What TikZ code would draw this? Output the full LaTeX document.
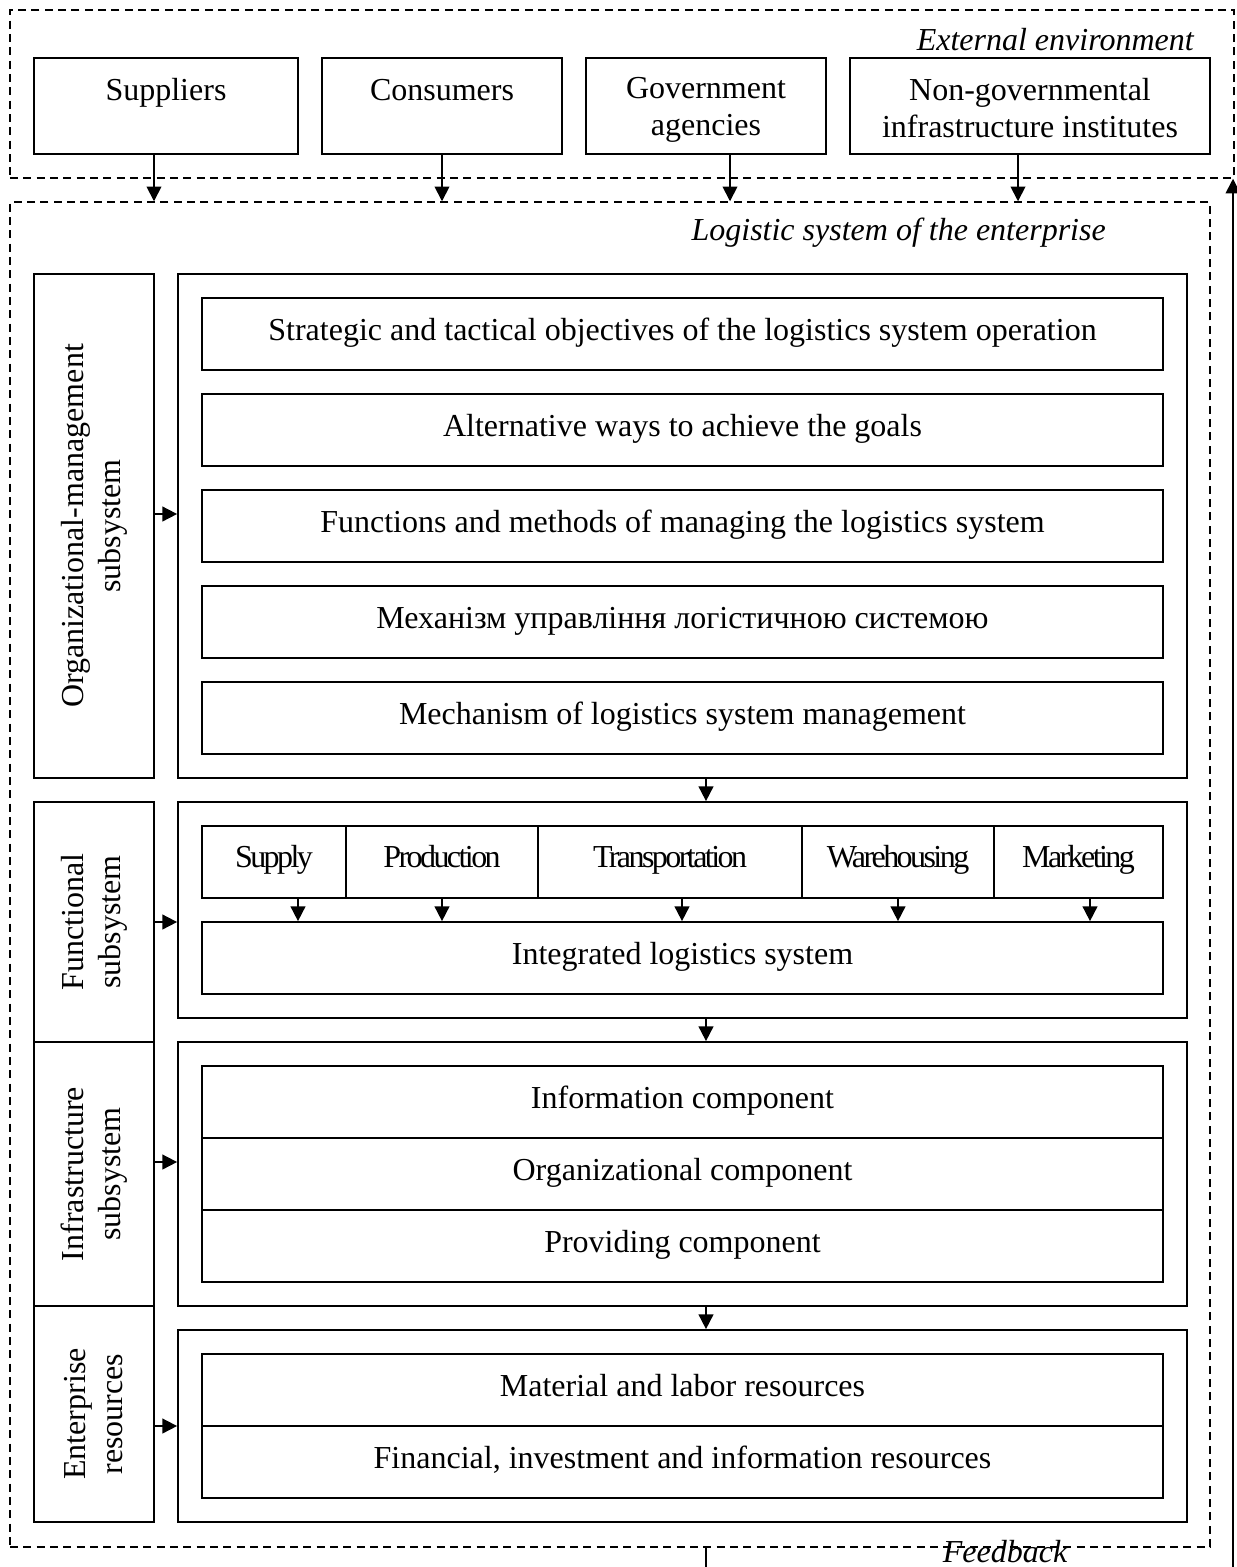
\documentclass[tikz,border=0pt]{standalone}
\usepackage{fontspec}
\setmainfont{Liberation Serif}
\newfontfamily\tightfont[LetterSpace=-8]{Liberation Serif}
\usetikzlibrary{arrows.meta}
\newcommand\twolines[2]{\rule{0pt}{22pt}#1\\#2\rule[-3.25pt]{0pt}{3.25pt}}
\begin{document}
\begin{tikzpicture}[x=0.75pt,y=-0.75pt,
  every node/.style={font=\fontsize{24}{27.75}\selectfont},
  bx/.style 2 args={minimum width=#1*0.75pt, minimum height=#2*0.75pt},
  box/.style={draw, line width=1.3pt, inner sep=0pt, align=center},
  one/.style={text height=17pt, text depth=8pt},
  dbox/.style={draw, line width=1.1pt, dash pattern=on 6pt off 4pt, inner sep=0pt},
  arr/.style={line width=1.3pt, -{Triangle[length=11pt,width=11pt]}},
  lbl/.style={font=\fontsize{24}{27.75}\selectfont\itshape, inner sep=0pt},
  tight/.style={font=\fontsize{24}{27.75}\tightfont, text height=16pt, text depth=8.5pt}]
\useasboundingbox (0,0) rectangle (1237,1567);
% external environment
\node[dbox, bx={1224}{168}] (ext) at (622,94) {};
\node[lbl, anchor=east] (extl) at (1194,40) {External environment};
\node[box, bx={264}{96}] (sup) at (166,106) {\twolines{Suppliers}{\mbox{}}};
\node[box, bx={240}{96}] (con) at (442,106) {\twolines{Consumers}{\mbox{}}};
\node[box, bx={240}{96}] (gov) at (706,106) {\twolines{Government}{agencies}};
\node[box, bx={360}{96}] (ngo) at (1030,106) {\twolines{Non-governmental}{infrastructure institutes}};
% logistic system
\node[dbox, bx={1200}{1345}] (sys) at (610,874.5) {};
\node[lbl, anchor=east] (sysl) at (1106,233) {Logistic system of the enterprise};
% left column
\node[box, bx={120}{504}] (L1) at (94,526) {};
\node[box, bx={120}{240}] (L2) at (94,922) {};
\node[box, bx={120}{264}] (L3) at (94,1174) {};
\node[box, bx={120}{216}] (L4) at (94,1414) {};
\node[rotate=90, align=center] (L1t) at (L1.center) {Organizational-management\\subsystem};
\node[rotate=90, align=center] (L2t) at (L2.center) {Functional\\subsystem};
\node[rotate=90, align=center] (L3t) at (L3.center) {Infrastructure\\subsystem};
\node[rotate=90, align=center] (L4t) at (L4.center) {Enterprise\\resources};
% right column
\node[box, bx={1009}{504}] (R1) at (682.5,526) {};
\node[box, bx={1009}{216}] (R2) at (682.5,910) {};
\node[box, bx={1009}{264}] (R3) at (682.5,1174) {};
\node[box, bx={1009}{192}] (R4) at (682.5,1426) {};
\node[box, one, bx={961}{72}] (a1) at (682.5,334) {Strategic and tactical objectives of the logistics system operation};
\node[box, one, bx={961}{72}] (a2) at (682.5,430) {Alternative ways to achieve the goals};
\node[box, one, bx={961}{72}] (a3) at (682.5,526) {Functions and methods of managing the logistics system};
\node[box, one, bx={961}{72}] (a4) at (682.5,622) {Механізм управління логістичною системою};
\node[box, one, bx={961}{72}] (a5) at (682.5,718) {Mechanism of logistics system management};
\node[box, tight, bx={144}{72}] (f1) at (274,862) {Supply};
\node[box, tight, bx={192}{72}] (f2) at (442,862) {Production};
\node[box, tight, bx={264}{72}] (f3) at (670,862) {Transportation};
\node[box, tight, bx={192}{72}] (f4) at (898,862) {Warehousing};
\node[box, tight, bx={169}{72}] (f5) at (1078.5,862) {Marketing};
\node[box, one, bx={961}{72}] (int) at (682.5,958) {Integrated logistics system};
\node[box, one, bx={961}{72}] (i1) at (682.5,1102) {Information component};
\node[box, one, bx={961}{72}] (i2) at (682.5,1174) {Organizational component};
\node[box, one, bx={961}{72}] (i3) at (682.5,1246) {Providing component};
\node[box, one, bx={961}{72}] (r1) at (682.5,1390) {Material and labor resources};
\node[box, one, bx={961}{72}] (r2) at (682.5,1462) {Financial, investment and information resources};
% arrows from external boxes
\coordinate (t1) at (154,0);
\coordinate (t2) at (442,0);
\coordinate (t3) at (730,0);
\coordinate (t4) at (1018,0);
\draw[arr] (sup.south -| t1) -- (sys.north -| t1);
\draw[arr] (con.south -| t2) -- (sys.north -| t2);
\draw[arr] (gov.south -| t3) -- (sys.north -| t3);
\draw[arr] (ngo.south -| t4) -- (sys.north -| t4);
% vertical arrows between blocks
\coordinate (xa) at (706,0);
\draw[arr] (R1.south -| xa) -- (R2.north -| xa);
\draw[arr] (R2.south -| xa) -- (R3.north -| xa);
\draw[arr] (R3.south -| xa) -- (R4.north -| xa);
% functional arrows
\coordinate (c1) at (298,0);
\coordinate (c2) at (442,0);
\coordinate (c3) at (682,0);
\coordinate (c4) at (898,0);
\coordinate (c5) at (1090,0);
\draw[arr] (f1.south -| c1) -- (int.north -| c1);
\draw[arr] (f2.south -| c2) -- (int.north -| c2);
\draw[arr] (f3.south -| c3) -- (int.north -| c3);
\draw[arr] (f4.south -| c4) -- (int.north -| c4);
\draw[arr] (f5.south -| c5) -- (int.north -| c5);
% side arrows
\coordinate (y1) at (0,514);
\coordinate (y2) at (0,922);
\coordinate (y3) at (0,1162);
\coordinate (y4) at (0,1426);
\draw[arr] (L1.east |- y1) -- (R1.west |- y1);
\draw[arr] (L2.east |- y2) -- (R2.west |- y2);
\draw[arr] (L3.east |- y3) -- (R3.west |- y3);
\draw[arr] (L4.east |- y4) -- (R4.west |- y4);
% feedback
\coordinate (fbB) at (1233,1567);
\draw[arr] (fbB) -- (fbB |- ext.south);
\draw[line width=1pt] (sys.south -| xa) -- (xa |- fbB);
\node[lbl, anchor=base] (fbl) at (1005,1562) {Feedback};
\end{tikzpicture}
\end{document}
